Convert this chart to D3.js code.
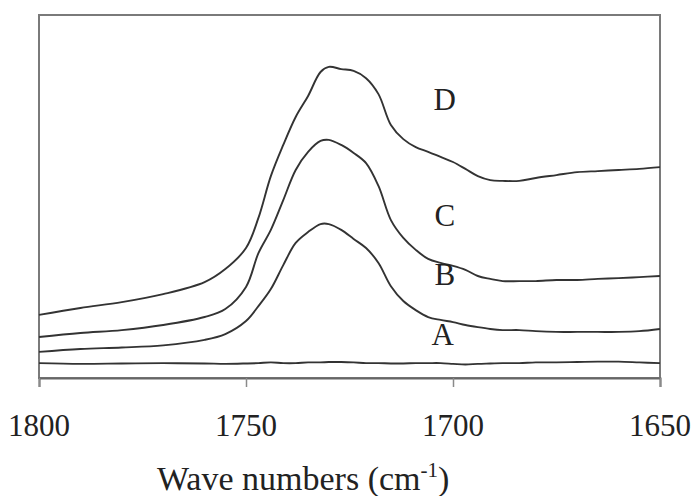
<!DOCTYPE html>
<html>
<head>
<meta charset="utf-8">
<script src="https://cdn.jsdelivr.net/npm/d3@7"></script>
<style>
  html, body { margin: 0; padding: 0; background: #fff; }
  svg { display: block; }
</style>
</head>
<body>
<svg id="chart" width="695" height="496"></svg>
<script>
// Wave numbers (cm-1), sampled left (1800) to right (1650)
const waveNumbers = [1800, 1790, 1780, 1770, 1760, 1755, 1750, 1747, 1744, 1741, 1738, 1735, 1732, 1730, 1727, 1724, 1721, 1718, 1715, 1712, 1709, 1706, 1703, 1700, 1697, 1694, 1691, 1688, 1684, 1680, 1675, 1670, 1665, 1660, 1655, 1650];

// Absorbance (arbitrary units)
const seriesA = [0.041, 0.039, 0.040, 0.041, 0.040, 0.039, 0.040, 0.041, 0.043, 0.041, 0.041, 0.043, 0.043, 0.044, 0.044, 0.043, 0.041, 0.041, 0.040, 0.040, 0.041, 0.041, 0.041, 0.039, 0.037, 0.039, 0.040, 0.041, 0.041, 0.043, 0.043, 0.044, 0.045, 0.045, 0.043, 0.041];
const seriesB = [0.072, 0.080, 0.084, 0.090, 0.105, 0.121, 0.157, 0.198, 0.245, 0.311, 0.372, 0.402, 0.424, 0.424, 0.408, 0.383, 0.358, 0.317, 0.253, 0.212, 0.187, 0.168, 0.160, 0.154, 0.146, 0.140, 0.135, 0.132, 0.132, 0.129, 0.127, 0.127, 0.127, 0.127, 0.129, 0.135];
const seriesC = [0.113, 0.124, 0.132, 0.146, 0.168, 0.190, 0.251, 0.344, 0.408, 0.490, 0.573, 0.623, 0.653, 0.656, 0.642, 0.620, 0.592, 0.529, 0.435, 0.386, 0.353, 0.328, 0.317, 0.309, 0.298, 0.281, 0.273, 0.267, 0.267, 0.267, 0.270, 0.270, 0.273, 0.275, 0.278, 0.281];
const seriesD = [0.174, 0.193, 0.209, 0.231, 0.264, 0.300, 0.358, 0.441, 0.556, 0.642, 0.719, 0.777, 0.843, 0.857, 0.851, 0.846, 0.826, 0.782, 0.697, 0.658, 0.636, 0.623, 0.609, 0.595, 0.576, 0.556, 0.545, 0.543, 0.543, 0.551, 0.559, 0.567, 0.570, 0.573, 0.576, 0.581];

const seriesNames = ["A", "B", "C", "D"];
// label anchor wave number and absorbance for each curve label
const labelWave = [1702.5, 1702, 1702, 1702];
const labelValue = [0.090, 0.256, 0.418, 0.738];
const xTicks = [1800, 1750, 1700, 1650];
const xTickLabels = ["1800", "1750", "1700", "1650"];

const allSeries = [seriesA, seriesB, seriesC, seriesD];

const svg = d3.select("#chart");
const margin = { left: 39, right: 35, top: 15, bottom: 118 };
const W = 695, H = 496;
const plotW = W - margin.left - margin.right;
const plotH = H - margin.top - margin.bottom;

const x = d3.scaleLinear().domain([1800, 1650]).range([margin.left, margin.left + plotW]);
const y = d3.scaleLinear().domain([0, 1]).range([margin.top + plotH, margin.top]);

const serif = "Liberation Serif";

// frame
svg.append("rect")
  .attr("x", margin.left).attr("y", margin.top)
  .attr("width", plotW).attr("height", plotH)
  .attr("fill", "none").attr("stroke", "#7a7a7a").attr("stroke-width", 2);

// x axis: tick marks from d3 axis, labels drawn below
const xAxis = d3.axisBottom(x).tickValues(xTicks).tickSizeInner(9).tickSizeOuter(9)
  .tickFormat(() => "");
const gx = svg.append("g")
  .attr("transform", `translate(0,${margin.top + plotH})`)
  .call(xAxis);
gx.select(".domain").attr("stroke", "#666").attr("stroke-width", 2);
gx.selectAll(".tick line").attr("stroke", "#8a8a8a").attr("stroke-width", 1.5);

svg.append("g").selectAll("text")
  .data(xTicks)
  .join("text")
  .attr("x", d => x(d))
  .attr("y", margin.top + plotH + 58)
  .attr("text-anchor", "middle")
  .attr("font-family", serif)
  .attr("font-size", 31)
  .attr("fill", "#222")
  .text((d, i) => xTickLabels[i]);

// curves
const line = d3.line()
  .x((d, i) => x(waveNumbers[i]))
  .y(d => y(d))
  .curve(d3.curveCatmullRom.alpha(0.5));

svg.append("g").selectAll("path")
  .data(allSeries)
  .join("path")
  .attr("d", d => line(d))
  .attr("fill", "none")
  .attr("stroke", "#333")
  .attr("stroke-width", 1.9);

// curve labels
svg.append("g").selectAll("text")
  .data(seriesNames)
  .join("text")
  .attr("x", (d, i) => x(labelWave[i]))
  .attr("y", (d, i) => y(labelValue[i]))
  .attr("text-anchor", "middle")
  .attr("font-family", serif)
  .attr("font-size", 31)
  .attr("fill", "#222")
  .text(d => d);

// axis title
const title = svg.append("text")
  .attr("x", 157)
  .attr("y", 490)
  .attr("font-family", serif)
  .attr("font-size", 34)
  .attr("fill", "#222");
title.append("tspan").text("Wave numbers (cm");
title.append("tspan").attr("dy", -13).attr("font-size", 21).text("-1");
title.append("tspan").attr("dy", 13).text(")");
</script>
</body>
</html>
